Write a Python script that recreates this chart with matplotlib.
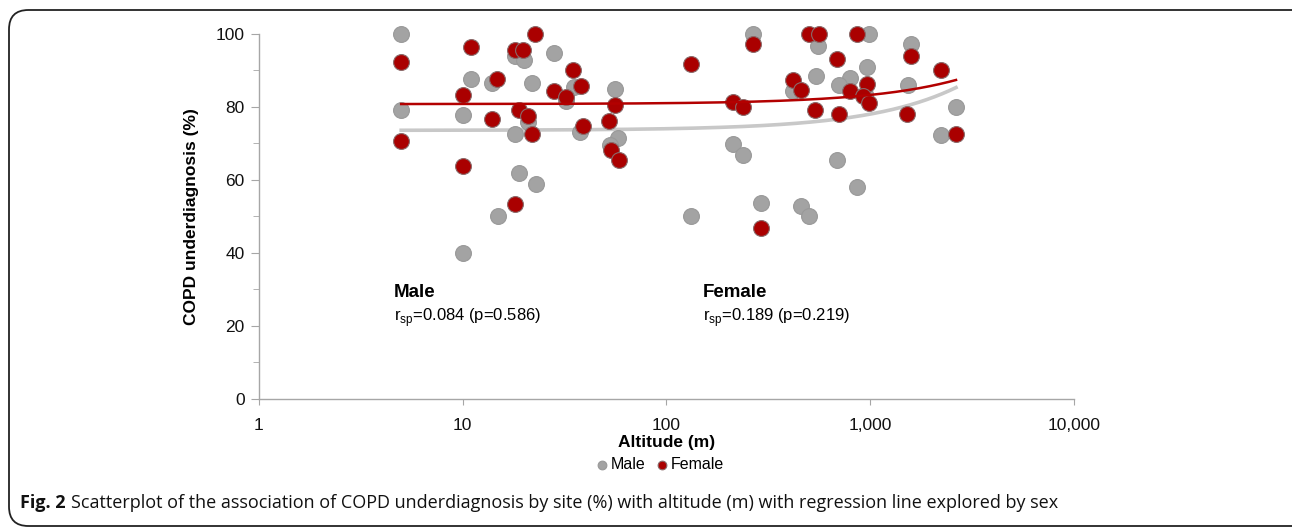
import numpy as np
import matplotlib.pyplot as plt
from matplotlib.patches import FancyBboxPatch
from matplotlib.ticker import FixedLocator, MultipleLocator, FuncFormatter

plt.rcParams['font.family'] = ['Liberation Sans', 'DejaVu Sans']

# site data: altitude (m), underdiagnosis (%)
male_alt = [5, 5, 11, 10, 10, 14, 18, 20, 28, 22, 35, 32, 56, 18, 21, 37.6, 58, 53, 19, 23, 15,
            265, 553, 981, 1590, 541, 959, 794, 700, 416, 938, 1528, 2630, 2227, 213, 238, 688,
            857, 290, 455, 498, 132]
male_pct = [100, 79.2, 87.8, 77.8, 39.9, 86.7, 94.0, 93.0, 94.8, 86.6, 85.6, 81.6, 84.9, 72.7,
            76.0, 73.2, 71.4, 69.6, 61.9, 59.0, 50.2,
            100, 96.6, 100, 97.3, 88.6, 91.0, 87.9, 86.0, 84.4, 83.6, 86.0, 80.0, 72.3, 69.9, 66.8,
            65.5, 58.2, 53.7, 52.9, 50.2, 50.2]

female_alt = [5, 5, 11, 10, 10, 14.8, 13.9, 18, 19.8, 22.7, 19, 21, 22, 18, 28, 32, 34.7, 38,
              38.8, 55.7, 52.4, 53.6, 58.7,
              265, 498, 557, 857, 132, 684, 1577, 2212, 419, 458, 959, 794, 923, 981, 213, 238,
              537, 700, 1517, 2630, 290]
female_pct = [92.3, 70.7, 96.4, 83.3, 63.7, 87.7, 76.7, 95.7, 95.7, 100, 79.1, 77.4, 72.5, 53.3,
              84.4, 82.7, 90.0, 85.8, 74.9, 80.5, 76.1, 68.3, 65.5,
              97.3, 100, 100, 100, 91.7, 93.1, 94.0, 90.2, 87.5, 84.7, 86.4, 84.5, 83.1, 81.2,
              81.4, 80.0, 79.2, 78.2, 78.0, 72.7, 46.9]

# linear regression lines (intercept, slope per metre)
male_fit = (73.6, 0.00446)
female_fit = (80.8, 0.00251)
fit_range = (5, 2630)

fig = plt.figure(figsize=(12.92, 5.27), dpi=100)
ax = fig.add_axes([0.2002, 0.2429, 0.6313, 0.6926])

grey = '#a3a3a3'
red = '#aa0000'

ax.scatter(male_alt, male_pct, s=130, color=grey, edgecolor='#999999', linewidth=0.8,
           zorder=3, clip_on=False, label='Male')
ax.scatter(female_alt, female_pct, s=130, color=red, edgecolor='#8a6a6a', linewidth=0.8,
           zorder=4, clip_on=False, label='Female')

xs = np.linspace(fit_range[0], fit_range[1], 400)
ax.plot(xs, male_fit[0] + male_fit[1] * xs, color='#c8c8c8', lw=2.6, zorder=2)
ax.plot(xs, female_fit[0] + female_fit[1] * xs, color='#b30000', lw=1.8, zorder=5)

ax.set_xscale('log')
ax.set_xlim(1, 10000)
ax.set_ylim(0, 100)
ax.xaxis.set_major_locator(FixedLocator([1, 10, 100, 1000, 10000]))
ax.xaxis.set_minor_locator(FixedLocator([]))
ax.xaxis.set_major_formatter(FuncFormatter(lambda v, p: f'{v:,.0f}'))
ax.yaxis.set_major_locator(MultipleLocator(20))
ax.yaxis.set_minor_locator(MultipleLocator(10))

for s in ['top', 'right']:
    ax.spines[s].set_visible(False)
for s in ['left', 'bottom']:
    ax.spines[s].set_color('#a6a6a6')
    ax.spines[s].set_linewidth(1.0)
ax.tick_params(axis='both', which='both', color='#a6a6a6', labelsize=12.5, labelcolor='#111111')
ax.tick_params(axis='y', which='major', length=6, pad=4)
ax.tick_params(axis='y', which='minor', length=4)
ax.tick_params(axis='x', which='major', length=4, pad=10)

ax.set_xlabel('Altitude (m)', fontsize=12.5, fontweight='bold', labelpad=1)
ax.set_ylabel('COPD underdiagnosis (%)', fontsize=12.5, fontweight='bold', labelpad=12)

ax.text(4.6, 29.3, 'Male', fontsize=13.5, fontweight='bold', va='center', ha='left')
ax.text(4.6, 22.3, r'r$_{\mathregular{sp}}$=0.084 (p=0.586)', fontsize=12, va='center', ha='left')
ax.text(151, 29.3, 'Female', fontsize=13.5, fontweight='bold', va='center', ha='left')
ax.text(151, 22.3, r'r$_{\mathregular{sp}}$=0.189 (p=0.219)', fontsize=12, va='center', ha='left')

fig.legend(loc='center', bbox_to_anchor=(0.51, 0.118), ncol=2, frameon=False,
           fontsize=11.5, handletextpad=0.05, columnspacing=0.5, markerscale=0.55,
           handlelength=1.0)

# caption: bold "Fig. 2" followed by regular text
fig.canvas.draw()
cap_y = 1 - 503 / 527
t1 = fig.text(20 / 1292, cap_y, 'Fig. 2', fontsize=13, family='Open Sans', fontweight='bold',
              va='center', ha='left', color='#111111')
bb = t1.get_window_extent(renderer=fig.canvas.get_renderer())
fig.text((bb.x1 + 5) / 1292, cap_y,
         'Scatterplot of the association of COPD underdiagnosis by site (%) '
         'with altitude (m) with regression line explored by sex',
         fontsize=13, family='Open Sans', va='center', ha='left', color='#111111')

frame = FancyBboxPatch((9 / 1292, 1 - 526 / 527), 1.1, (526 - 10) / 527,
                       boxstyle='round,pad=0,rounding_size=0.015', transform=fig.transFigure,
                       fill=False, edgecolor='#222222', linewidth=1.3, mutation_aspect=1292 / 527)
fig.patches.append(frame)

fig.savefig('out.png', dpi=100)
